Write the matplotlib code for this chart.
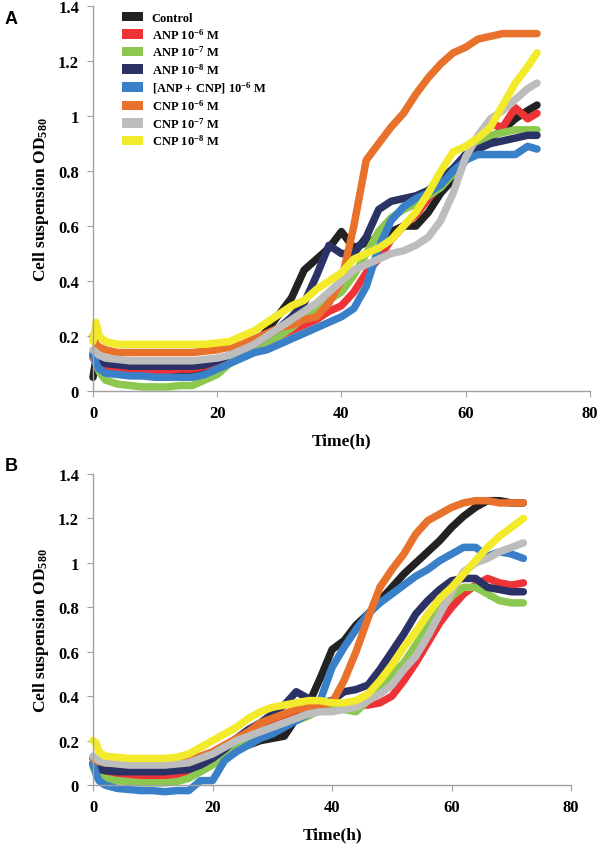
import numpy as np
import matplotlib
matplotlib.use('Agg')
import matplotlib.pyplot as plt
from matplotlib.patches import Patch

plt.rcParams['font.family'] = ['Liberation Serif', 'DejaVu Serif']
plt.rcParams['font.weight'] = 'bold'
plt.rcParams['mathtext.fontset'] = 'custom'
plt.rcParams['mathtext.rm'] = 'Liberation Serif:bold'
plt.rcParams['mathtext.it'] = 'Liberation Serif:bold'
plt.rcParams['mathtext.bf'] = 'Liberation Serif:bold'
plt.rcParams['mathtext.default'] = 'rm'

labels = ['Control', 'ANP 10$^{-6}$ M', 'ANP 10$^{-7}$ M', 'ANP 10$^{-8}$ M',
          '[ANP + CNP] 10$^{-6}$ M', 'CNP 10$^{-6}$ M', 'CNP 10$^{-7}$ M', 'CNP 10$^{-8}$ M']
colors = ['#222222', '#ee3338', '#8cc850', '#2b3266', '#3a80c9', '#e8722c', '#bdbdbd', '#f2ea2a']

# panel A
tA = [0, 0.5, 1, 2, 4, 6, 8, 10, 12, 14, 16, 18, 20, 22, 24, 26, 28, 30, 32, 34, 36, 38,
      40, 42, 44, 46, 48, 50, 52, 54, 56, 58, 60, 62, 64, 66, 68, 70, 71.5]
ctrlA = [0.05, 0.12, 0.09, 0.08, 0.075, 0.07, 0.07, 0.07, 0.07, 0.075, 0.075, 0.08, 0.1, 0.12,
         0.14, 0.17, 0.22, 0.28, 0.34, 0.44, 0.48, 0.52, 0.58, 0.52, 0.54, 0.56, 0.58, 0.6,
         0.6, 0.65, 0.72, 0.77, 0.84, 0.89, 0.92, 0.95, 0.99, 1.02, 1.04]
anp6A = [0.12, 0.11, 0.1, 0.09, 0.08, 0.08, 0.08, 0.075, 0.075, 0.08, 0.08, 0.09, 0.1, 0.12,
         0.14, 0.16, 0.18, 0.2, 0.22, 0.24, 0.26, 0.29, 0.31, 0.36, 0.43, 0.48, 0.55, 0.6,
         0.64, 0.7, 0.75, 0.8, 0.85, 0.92, 0.97, 0.96, 1.03, 0.99, 1.01]
anp7A = [0.13, 0.1, 0.07, 0.04, 0.025, 0.02, 0.015, 0.015, 0.015, 0.02, 0.02, 0.04, 0.06, 0.1,
         0.13, 0.16, 0.18, 0.2, 0.23, 0.27, 0.3, 0.33, 0.36, 0.42, 0.5, 0.58, 0.63, 0.66,
         0.68, 0.71, 0.74, 0.79, 0.86, 0.9, 0.93, 0.94, 0.95, 0.95, 0.95]
anp8A = [0.13, 0.12, 0.11, 0.1, 0.095, 0.09, 0.09, 0.09, 0.09, 0.09, 0.09, 0.095, 0.11, 0.13,
         0.15, 0.17, 0.2, 0.23, 0.27, 0.32, 0.42, 0.53, 0.5, 0.5, 0.56, 0.66, 0.69, 0.7,
         0.71, 0.73, 0.77, 0.81, 0.86, 0.88, 0.9, 0.91, 0.92, 0.93, 0.93]
mixA = [0.14, 0.1, 0.08, 0.065, 0.06, 0.055, 0.055, 0.05, 0.05, 0.05, 0.05, 0.06, 0.08, 0.1,
        0.12, 0.14, 0.15, 0.17, 0.19, 0.21, 0.23, 0.25, 0.27, 0.3, 0.38, 0.52, 0.62, 0.67,
        0.7, 0.72, 0.75, 0.8, 0.84, 0.86, 0.86, 0.86, 0.86, 0.89, 0.88]
cnp6A = [0.2, 0.17, 0.16, 0.15, 0.14, 0.14, 0.14, 0.14, 0.14, 0.14, 0.14, 0.145, 0.15, 0.16,
         0.17, 0.19, 0.21, 0.23, 0.24, 0.26, 0.27, 0.32, 0.4, 0.6, 0.84, 0.9, 0.96, 1.01,
         1.08, 1.14, 1.19, 1.23, 1.25, 1.28, 1.29, 1.3, 1.3, 1.3, 1.3]
cnp7A = [0.15, 0.14, 0.13, 0.12, 0.115, 0.11, 0.11, 0.11, 0.11, 0.11, 0.11, 0.115, 0.12, 0.13,
         0.15, 0.17, 0.2, 0.23, 0.26, 0.29, 0.32, 0.36, 0.4, 0.44, 0.46, 0.48, 0.5, 0.51,
         0.53, 0.56, 0.62, 0.72, 0.85, 0.93, 0.99, 1.02, 1.06, 1.1, 1.12]
cnp8A = [0.18, 0.25, 0.2, 0.18, 0.17, 0.17, 0.17, 0.17, 0.17, 0.17, 0.17, 0.17, 0.175, 0.18,
         0.2, 0.22, 0.25, 0.28, 0.31, 0.33, 0.37, 0.4, 0.43, 0.48, 0.5, 0.52, 0.55, 0.6,
         0.65, 0.72, 0.8, 0.87, 0.89, 0.92, 0.96, 1.04, 1.12, 1.18, 1.23]

# panel B
tB = [0, 0.5, 1, 2, 4, 6, 8, 10, 12, 14, 16, 18, 20, 22, 24, 26, 28, 30, 32, 34, 36, 38,
      40, 42, 44, 46, 48, 50, 52, 54, 56, 58, 60, 62, 64, 66, 68, 70, 72]
ctrlB = [0.12, 0.1, 0.09, 0.08, 0.075, 0.07, 0.07, 0.07, 0.07, 0.075, 0.08, 0.09, 0.11, 0.13,
         0.16, 0.18, 0.2, 0.21, 0.22, 0.3, 0.36, 0.48, 0.61, 0.65, 0.72, 0.77, 0.83, 0.89,
         0.95, 1.0, 1.05, 1.1, 1.16, 1.21, 1.25, 1.28, 1.28, 1.27, 1.27]
anp6B = [0.09, 0.07, 0.06, 0.05, 0.045, 0.04, 0.04, 0.04, 0.04, 0.045, 0.05, 0.07, 0.1, 0.14,
         0.18, 0.21, 0.24, 0.27, 0.29, 0.31, 0.33, 0.34, 0.35, 0.35, 0.36, 0.36, 0.37, 0.4,
         0.47, 0.55, 0.64, 0.73, 0.8, 0.86, 0.9, 0.93, 0.91, 0.9, 0.91]
anp7B = [0.08, 0.06, 0.04, 0.03, 0.02, 0.015, 0.01, 0.01, 0.01, 0.015, 0.03, 0.06, 0.09, 0.13,
         0.17, 0.21, 0.24, 0.26, 0.28, 0.29, 0.31, 0.34, 0.35, 0.34, 0.33, 0.38, 0.44, 0.5,
         0.55, 0.63, 0.71, 0.79, 0.85, 0.89, 0.89, 0.86, 0.83, 0.82, 0.82]
anp8B = [0.1, 0.08, 0.07, 0.065, 0.06, 0.06, 0.06, 0.06, 0.06, 0.065, 0.07, 0.09, 0.12, 0.16,
         0.21, 0.25, 0.28, 0.32, 0.36, 0.42, 0.39, 0.37, 0.38, 0.42, 0.43, 0.45, 0.52, 0.6,
         0.68, 0.77, 0.83, 0.88, 0.92, 0.93, 0.93, 0.89, 0.88, 0.87, 0.87]
mixB = [0.1, 0.05, 0.02, 0.0, -0.015, -0.02, -0.025, -0.025, -0.03, -0.025, -0.025, 0.02, 0.02,
        0.11, 0.15, 0.18, 0.21, 0.23, 0.26, 0.29, 0.32, 0.38, 0.53, 0.62, 0.7, 0.77, 0.82,
        0.86, 0.9, 0.94, 0.97, 1.01, 1.04, 1.07, 1.07, 1.03, 1.05, 1.04, 1.02]
cnp6B = [0.12, 0.11, 0.105, 0.1, 0.1, 0.1, 0.1, 0.1, 0.1, 0.1, 0.11, 0.13, 0.15, 0.18,
         0.21, 0.24, 0.28, 0.3, 0.32, 0.34, 0.35, 0.36, 0.37, 0.47, 0.6, 0.75, 0.89, 0.97,
         1.04, 1.13, 1.19, 1.22, 1.25, 1.27, 1.28, 1.28, 1.27, 1.27, 1.27]
cnp7B = [0.13, 0.12, 0.11, 0.1, 0.095, 0.09, 0.09, 0.09, 0.09, 0.095, 0.1, 0.12, 0.14, 0.17,
         0.2, 0.22, 0.24, 0.26, 0.28, 0.3, 0.32, 0.33, 0.33, 0.34, 0.35, 0.38, 0.41, 0.45,
         0.52, 0.58, 0.67, 0.77, 0.87, 0.96, 1.0, 1.02, 1.05, 1.07, 1.09]
cnp8B = [0.2, 0.19, 0.15, 0.13, 0.125, 0.12, 0.12, 0.12, 0.12, 0.125, 0.14, 0.17, 0.2, 0.23,
         0.26, 0.3, 0.33, 0.35, 0.36, 0.37, 0.38, 0.38, 0.37, 0.37, 0.38, 0.41, 0.47, 0.54,
         0.62, 0.69, 0.77, 0.84, 0.89, 0.95, 1.01, 1.07, 1.12, 1.16, 1.2]

seriesA = [ctrlA, anp6A, anp7A, anp8A, mixA, cnp6A, cnp7A, cnp8A]
seriesB = [ctrlB, anp6B, anp7B, anp8B, mixB, cnp6B, cnp7B, cnp8B]

fig = plt.figure(figsize=(6, 8.53), dpi=100)
axA = fig.add_axes([0.155, 0.5404, 0.828, 0.4513])
axB = fig.add_axes([0.155, 0.0785, 0.797, 0.3646])

def style(ax):
    for s in ['top', 'right']:
        ax.spines[s].set_visible(False)
    for s in ['left', 'bottom']:
        ax.spines[s].set_color('#a0a0a0')
        ax.spines[s].set_linewidth(1.0)
    ax.set_xlim(0, 80)
    ax.set_ylim(0, 1.4)
    ax.set_xticks([0, 20, 40, 60, 80])
    ax.set_yticks([0, 0.2, 0.4, 0.6, 0.8, 1.0, 1.2, 1.4])
    ax.set_yticklabels(['0', '0.2', '0.4', '0.6', '0.8', '1', '1.2', '1.4'])
    ax.tick_params(direction='out', length=4, color='#a0a0a0', labelsize=12, pad=6)
    for lab in ax.get_xticklabels() + ax.get_yticklabels():
        lab.set_fontweight('bold')
    ax.set_xlabel('Time(h)', fontsize=12.5, fontweight='bold', labelpad=8)
    ax.set_ylabel('Cell suspension OD$_{580}$', fontsize=12.5, fontweight='bold', labelpad=5)

for ax, t, series in [(axA, tA, seriesA), (axB, tB, seriesB)]:
    for y, c in zip(series, colors):
        ax.plot(t, y, color=c, lw=5.4, solid_capstyle='round', solid_joinstyle='round',
                clip_on=False)
    style(ax)

handles = [Patch(facecolor=c, edgecolor='none') for c in colors]
axA.legend(handles, labels, loc='upper left', bbox_to_anchor=(0.035, 1.015), frameon=False,
           handlelength=1.7, handleheight=0.8, labelspacing=0.24,
           handletextpad=0.7, prop={'weight': 'bold', 'size': 9})

fig.text(0.008, 0.972, 'A', fontsize=13, fontweight='bold', family='Liberation Sans')
fig.text(0.008, 0.448, 'B', fontsize=13, fontweight='bold', family='Liberation Sans')

fig.savefig('out.png', dpi=100)
